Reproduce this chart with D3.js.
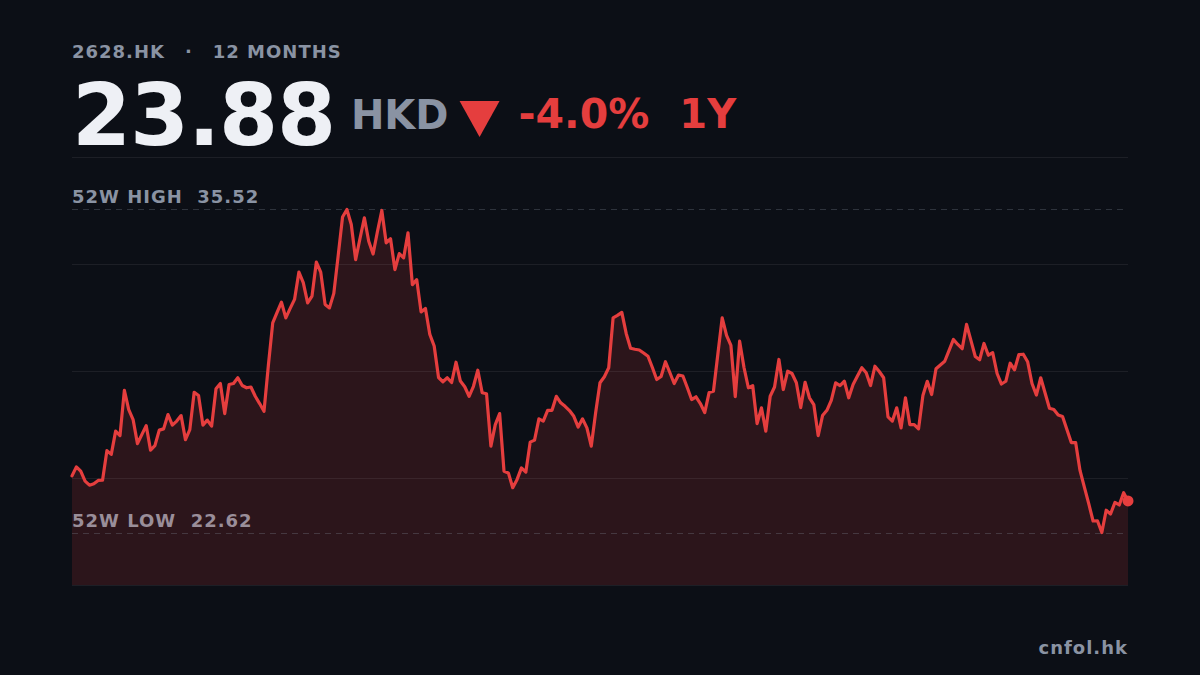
<!DOCTYPE html>
<meta charset="utf-8">
<style>
body { margin: 0; background: #0c0f16; }
svg text { font-family: "DejaVu Sans", sans-serif; font-weight: bold; }
</style>
<svg width="1200" height="675"></svg>
<script src="https://cdn.jsdelivr.net/npm/d3@7/dist/d3.min.js"></script>
<script>

var ticker = "2628.HK",
    period = "12 MONTHS",
    currency = "HKD",
    source = "cnfol.hk";

var lastPrice = 23.88,
    changePct = -4.0,
    changeLabel = "1Y";

var high52 = 35.52,
    low52 = 22.62;

// daily closes, 12 months
var prices = [
  24.88, 25.24, 25.07, 24.67, 24.51, 24.57, 24.70, 24.71, 25.89, 25.74,
  26.67, 26.49, 28.30, 27.53, 27.13, 26.17, 26.53, 26.89, 25.91, 26.09,
  26.71, 26.76, 27.33, 26.91, 27.07, 27.29, 26.33, 26.73, 28.22, 28.09,
  26.91, 27.11, 26.87, 28.36, 28.57, 27.37, 28.53, 28.57, 28.80, 28.49,
  28.40, 28.43, 28.06, 27.77, 27.46, 29.29, 30.99, 31.41, 31.82, 31.19,
  31.57, 31.93, 33.02, 32.60, 31.79, 32.06, 33.42, 33.02, 31.73, 31.59,
  32.17, 33.68, 35.22, 35.52, 34.92, 33.52, 34.36, 35.19, 34.25, 33.74,
  34.64, 35.48, 34.19, 34.35, 33.12, 33.76, 33.59, 34.59, 32.52, 32.72,
  31.43, 31.57, 30.53, 30.07, 28.81, 28.64, 28.80, 28.61, 29.42, 28.67,
  28.44, 28.06, 28.46, 29.10, 28.20, 28.16, 26.07, 26.93, 27.37, 25.07,
  25.00, 24.41, 24.74, 25.20, 25.03, 26.23, 26.31, 27.16, 27.07, 27.50,
  27.50, 28.06, 27.80, 27.66, 27.49, 27.26, 26.83, 27.16, 26.80, 26.07,
  27.40, 28.60, 28.84, 29.20, 31.19, 31.29, 31.41, 30.57, 29.98, 29.94,
  29.91, 29.79, 29.66, 29.21, 28.73, 28.85, 29.44, 29.01, 28.57, 28.91,
  28.87, 28.41, 27.93, 28.04, 27.77, 27.41, 28.21, 28.26, 29.73, 31.19,
  30.49, 30.09, 28.05, 30.26, 29.21, 28.40, 28.48, 26.97, 27.60, 26.67,
  28.06, 28.43, 29.53, 28.33, 29.06, 28.97, 28.60, 27.61, 28.62, 28.00,
  27.73, 26.49, 27.29, 27.50, 27.90, 28.60, 28.49, 28.66, 28.00, 28.53,
  28.87, 29.20, 29.00, 28.49, 29.26, 29.05, 28.80, 27.24, 27.07, 27.60,
  26.80, 28.00, 26.93, 26.93, 26.76, 28.09, 28.66, 28.13, 29.16, 29.31,
  29.46, 29.89, 30.33, 30.13, 29.96, 30.93, 30.29, 29.65, 29.52, 30.17,
  29.70, 29.80, 28.97, 28.55, 28.66, 29.38, 29.12, 29.73, 29.74, 29.44,
  28.57, 28.11, 28.80, 28.19, 27.58, 27.53, 27.31, 27.25, 26.73, 26.21,
  26.21, 25.10, 24.43, 23.77, 23.08, 23.09, 22.62, 23.51, 23.36, 23.82,
  23.72, 24.21, 23.88
];

var svg = d3.select("svg"),
    width = +svg.attr("width"),
    height = +svg.attr("height");

var red = "#e53e3e",
    gray = "#8a93a3";

var margin = {left: 72, right: 72, top: 157, bottom: 90};

var lo = d3.min(prices), hi = d3.max(prices),
    pad = (hi - lo) * 0.1625;

var x = d3.scaleLinear()
    .domain([0, prices.length - 1])
    .range([margin.left, width - margin.right]);

var y = d3.scaleLinear()
    .domain([lo - pad, hi + pad])
    .range([height - margin.bottom, margin.top]);

svg.append("rect")
    .attr("width", width)
    .attr("height", height)
    .attr("fill", "#0c0f16");

// header
var head = svg.append("text")
    .attr("x", margin.left)
    .attr("y", 58)
    .attr("font-size", 18)
    .attr("letter-spacing", 1)
    .attr("fill", gray);
head.append("tspan").text(ticker);
head.append("tspan").attr("dx", 20).text("·");
head.append("tspan").attr("dx", 20).text(period);

var big = svg.append("text")
    .attr("x", margin.left)
    .attr("y", 145)
    .attr("font-size", 85)
    .attr("letter-spacing", -1.2)
    .attr("fill", "#eef0f5")
    .text(lastPrice.toFixed(2));

var cx = margin.left + big.node().getComputedTextLength() + 16;

var cur = svg.append("text")
    .attr("x", cx)
    .attr("y", 129)
    .attr("font-size", 40)
    .attr("fill", gray)
    .text(currency);

cx += cur.node().getComputedTextLength() + 11;

// down arrow
svg.append("path")
    .attr("d", "M" + cx + ",101 h40 l-20,36 z")
    .attr("fill", red);

cx += 40 + 19;

var pct = svg.append("text")
    .attr("x", cx)
    .attr("y", 128)
    .attr("font-size", 41)
    .attr("fill", red)
    .text(changePct.toFixed(1) + "%");

cx += pct.node().getComputedTextLength() + 30;

svg.append("text")
    .attr("x", cx)
    .attr("y", 128)
    .attr("font-size", 40)
    .attr("fill", red)
    .text(changeLabel);

// area under the line
var area = d3.area()
    .x(function(d, i) { return x(i); })
    .y0(y.range()[0])
    .y1(function(d) { return y(d); });

svg.append("path")
    .datum(prices)
    .attr("fill", red)
    .attr("fill-opacity", 0.15)
    .attr("d", area);

// grid
var span = y.domain()[1] - y.domain()[0];
svg.append("g")
  .selectAll("line")
  .data(d3.range(5).map(function(k) { return y.domain()[0] + span * k / 4; }))
  .enter().append("line")
    .attr("x1", x.range()[0])
    .attr("x2", x.range()[1])
    .attr("y1", function(d) { return Math.round(y(d)) + 0.5; })
    .attr("y2", function(d) { return Math.round(y(d)) + 0.5; })
    .attr("stroke", "#ffffff")
    .attr("stroke-opacity", 0.07);

// 52 week high / low
var marks = [
  {label: "52W HIGH", v: high52, color: gray},
  {label: "52W LOW", v: low52, color: "#9a8e99"}
];

svg.append("g")
  .selectAll("line")
  .data(marks)
  .enter().append("line")
    .attr("x1", x.range()[0])
    .attr("x2", x.range()[1])
    .attr("y1", function(d) { return Math.round(y(d.v)) + 0.5; })
    .attr("y2", function(d) { return Math.round(y(d.v)) + 0.5; })
    .attr("stroke", gray)
    .attr("stroke-opacity", 0.28)
    .attr("stroke-dasharray", "6,5");

svg.append("g")
  .selectAll("text")
  .data(marks)
  .enter().append("text")
    .attr("x", x.range()[0])
    .attr("y", function(d) { return y(d.v) - 6; })
    .attr("font-size", 18)
    .attr("letter-spacing", 1)
    .attr("fill", function(d) { return d.color; })
    .attr("xml:space", "preserve")
    .style("white-space", "pre")
    .text(function(d) { return d.label + "  " + d.v.toFixed(2); });

// price line
var line = d3.line()
    .x(function(d, i) { return x(i); })
    .y(function(d) { return y(d); });

svg.append("path")
    .datum(prices)
    .attr("fill", "none")
    .attr("stroke", red)
    .attr("stroke-width", 3.2)
    .attr("stroke-linejoin", "round")
    .attr("stroke-linecap", "round")
    .attr("d", line);

svg.append("circle")
    .attr("cx", x(prices.length - 1))
    .attr("cy", y(prices[prices.length - 1]))
    .attr("r", 5.5)
    .attr("fill", red);

svg.append("text")
    .attr("x", x.range()[1])
    .attr("y", 654)
    .attr("text-anchor", "end")
    .attr("font-size", 18)
    .attr("letter-spacing", 1)
    .attr("fill", gray)
    .text(source);

</script>
